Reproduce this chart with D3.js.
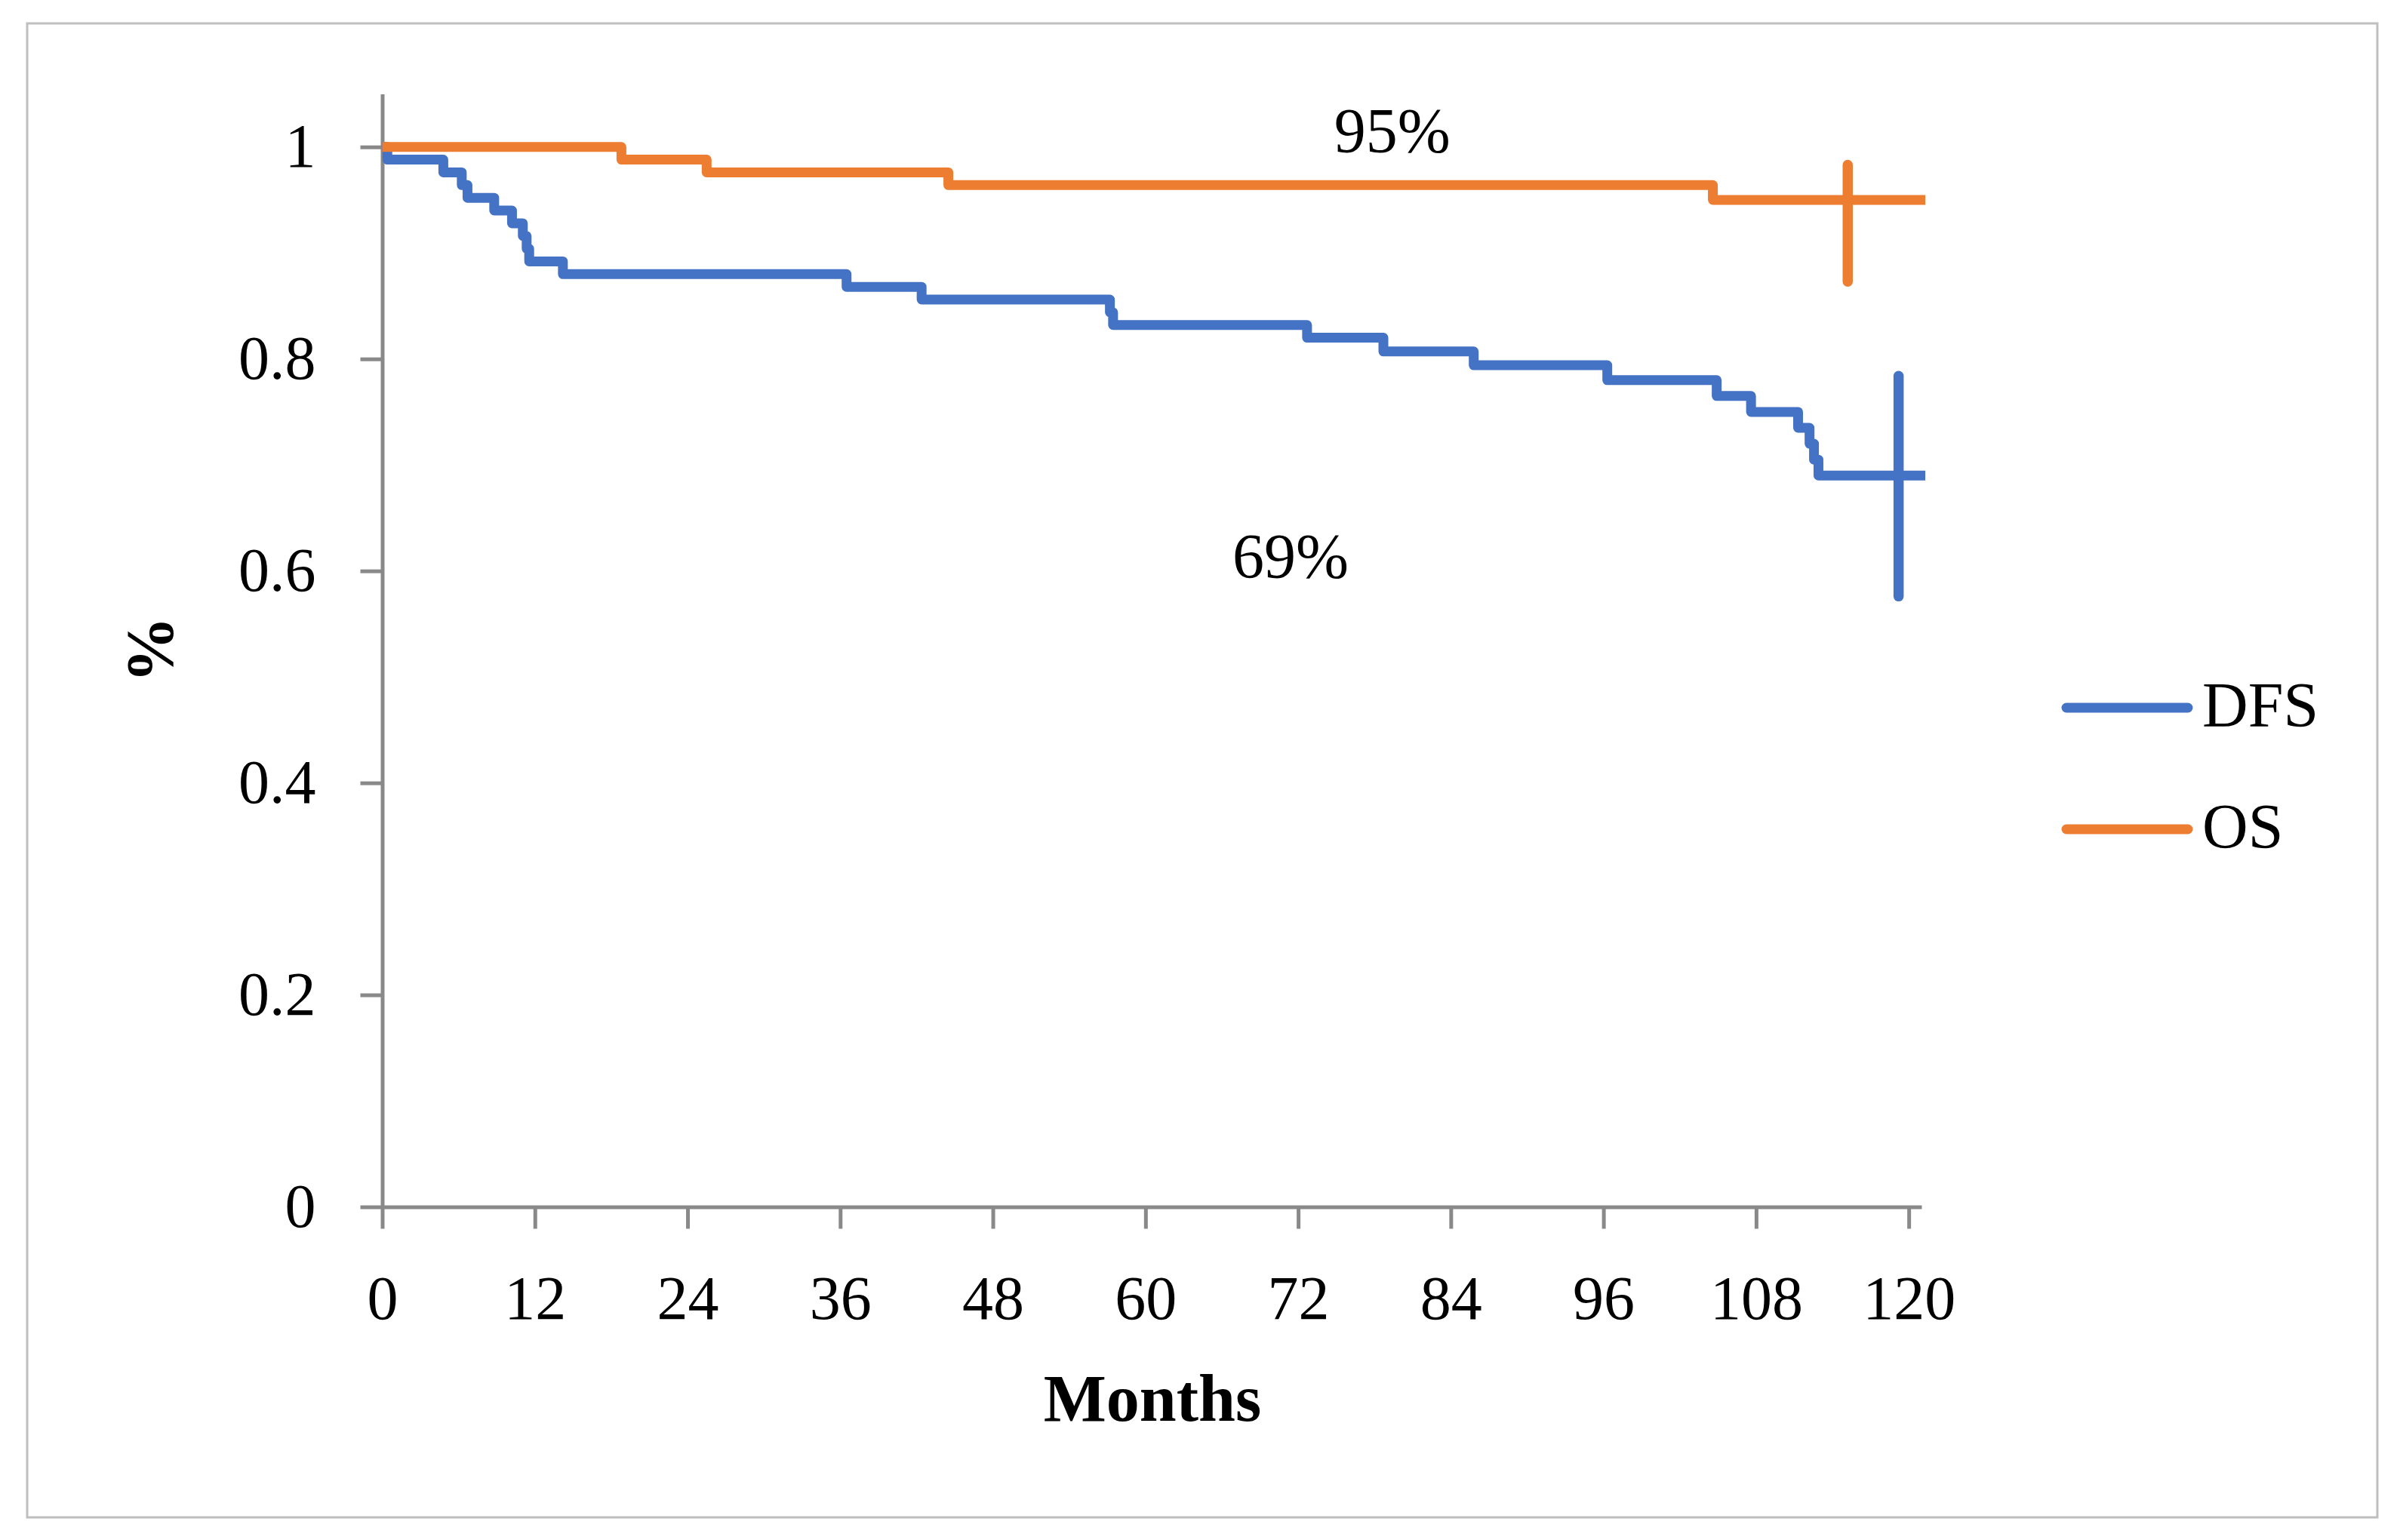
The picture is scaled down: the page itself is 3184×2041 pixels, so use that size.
<!DOCTYPE html>
<html>
<head>
<meta charset="utf-8">
<script src="https://cdn.jsdelivr.net/npm/d3@7"></script>
<style>
  html, body { margin: 0; padding: 0; background: #ffffff; }
  svg { display: block; }
  text { font-family: "Liberation Serif", "Times New Roman", serif; fill: #000; }
</style>
</head>
<body>
<svg id="chart" width="3184" height="2041"></svg>
<script>
// ---- Data ----
const xTicks = [0, 12, 24, 36, 48, 60, 72, 84, 96, 108, 120];
const yTicks = [0, 0.2, 0.4, 0.6, 0.8, 1];

// DFS Kaplan-Meier steps: time (months) and survival after that time
const dfsTimes  = [0, 0.4, 4.8, 6.25, 6.7, 8.8, 10.2, 11.05, 11.35, 11.55, 14.2, 36.5, 42.4, 57.2, 57.45, 72.7, 78.7, 85.8, 96.3, 104.9, 107.6, 111.3, 112.2, 112.55, 112.9, 121.3];
const dfsValues = [1, 0.988, 0.976, 0.964, 0.952, 0.940, 0.928, 0.916, 0.904, 0.892, 0.880, 0.868, 0.856, 0.844, 0.832, 0.820, 0.807, 0.794, 0.780, 0.765, 0.750, 0.735, 0.720, 0.705, 0.690, 0.690];

// OS Kaplan-Meier steps
const osTimes  = [0, 18.8, 25.5, 44.5, 104.6, 121.3];
const osValues = [1, 0.988, 0.976, 0.964, 0.950, 0.950];

// Vertical marks near the end of each curve: [time, low, high]
const dfsMark = [119.2, 0.576, 0.784];
const osMark  = [115.2, 0.873, 0.983];

const seriesNames = ["DFS", "OS"];
const seriesColors = ["#4472C4", "#ED7D31"];
const annotations = [
  { text: "95%", t: 79.4, v: 0.995 },
  { text: "69%", t: 71.4, v: 0.593 }
];

// ---- Layout ----
const svg = d3.select("#chart");
const axisColor = "#898989";

svg.append("rect")
  .attr("x", 36).attr("y", 31)
  .attr("width", 3114).attr("height", 1980)
  .attr("fill", "#ffffff")
  .attr("stroke", "#bfbfbf")
  .attr("stroke-width", 3);

const x = d3.scaleLinear().domain([0, 121]).range([506.5, 2546]);
const y = d3.scaleLinear().domain([0, 1.05]).range([1599.5, 124.5]);

// Axes
const xAxis = d3.axisBottom(x).tickValues(xTicks).tickSize(29).tickSizeOuter(0).tickPadding(61).tickFormat(d3.format("d"));
const yAxis = d3.axisLeft(y).tickValues(yTicks).tickSize(29).tickSizeOuter(0).tickPadding(59).tickFormat(d => d === 0 ? "0" : d === 1 ? "1" : d3.format(".1f")(d));

const gx = svg.append("g").attr("transform", `translate(0,${y(0)})`).call(xAxis);
const gy = svg.append("g").attr("transform", `translate(${x(0)},0)`).call(yAxis);

[gx, gy].forEach(g => {
  g.select(".domain").attr("stroke", axisColor).attr("stroke-width", 5);
  g.selectAll(".tick line").attr("stroke", axisColor).attr("stroke-width", 5);
  g.selectAll(".tick text")
    .attr("fill", "#000")
    .style("font-family", '"Liberation Serif", serif')
    .style("font-size", "82px");
});

// Step lines
const line = d3.line()
  .x(d => x(d[0]))
  .y(d => y(d[1]))
  .curve(d3.curveStepAfter);

const dfsData = dfsTimes.map((t, i) => [t, dfsValues[i]]);
const osData = osTimes.map((t, i) => [t, osValues[i]]);

[dfsData, osData].forEach((data, i) => {
  svg.append("path")
    .datum(data)
    .attr("d", line)
    .attr("fill", "none")
    .attr("stroke", seriesColors[i])
    .attr("stroke-width", 13)
    .attr("stroke-linejoin", "round")
    .attr("stroke-linecap", "butt");
});

// Vertical marks
[dfsMark, osMark].forEach((m, i) => {
  svg.append("line")
    .attr("x1", x(m[0])).attr("x2", x(m[0]))
    .attr("y1", y(m[1])).attr("y2", y(m[2]))
    .attr("stroke", seriesColors[i])
    .attr("stroke-width", 13.5)
    .attr("stroke-linecap", "round");
});

// Annotations
annotations.forEach(a => {
  svg.append("text")
    .attr("x", x(a.t)).attr("y", y(a.v))
    .attr("text-anchor", "middle")
    .style("font-size", "84px")
    .text(a.text);
});

// Axis titles
svg.append("text")
  .attr("x", 1527).attr("y", 1883)
  .attr("text-anchor", "middle")
  .style("font-size", "88px")
  .style("font-weight", "bold")
  .text("Months");

svg.append("text")
  .attr("transform", "translate(228,861) rotate(-90)")
  .attr("text-anchor", "middle")
  .style("font-size", "88px")
  .style("font-weight", "bold")
  .text("%");

// Legend
const legendY = [938, 1099];
seriesNames.forEach((name, i) => {
  svg.append("line")
    .attr("x1", 2738).attr("x2", 2899)
    .attr("y1", legendY[i]).attr("y2", legendY[i])
    .attr("stroke", seriesColors[i])
    .attr("stroke-width", 13)
    .attr("stroke-linecap", "round");
  svg.append("text")
    .attr("x", 2918).attr("y", legendY[i] + 25)
    .style("font-size", "84px")
    .text(name);
});
</script>
</body>
</html>
